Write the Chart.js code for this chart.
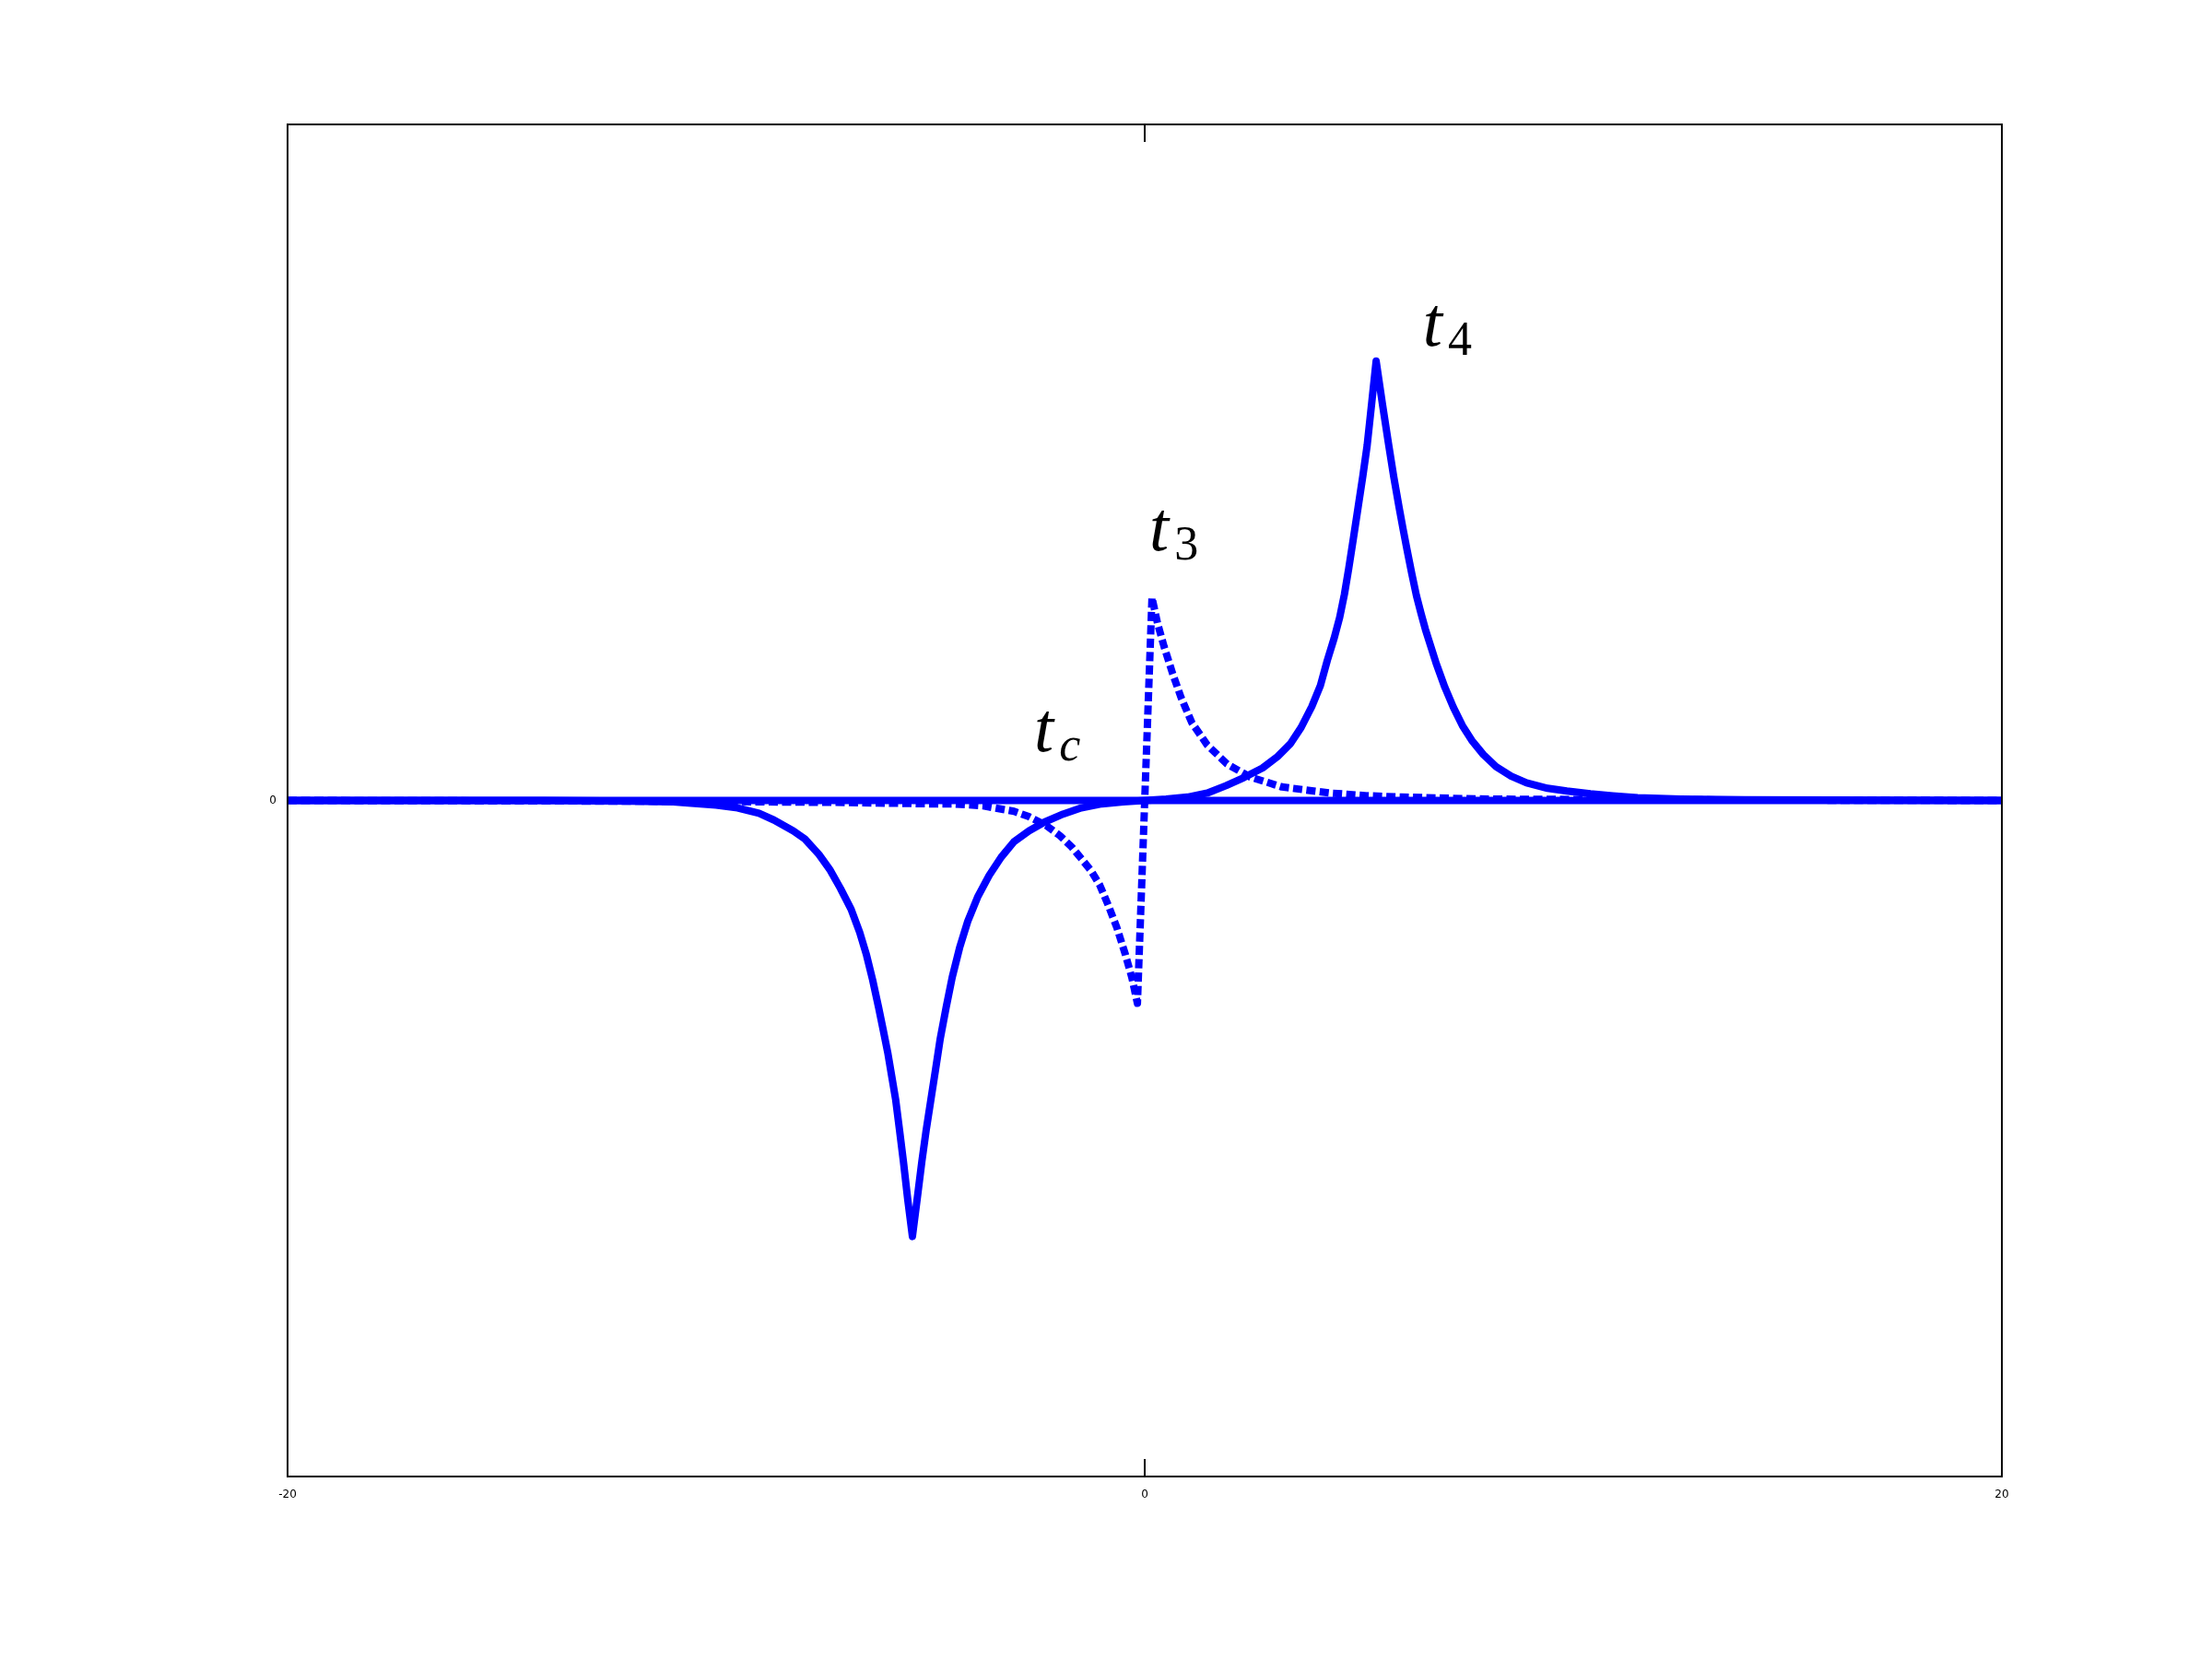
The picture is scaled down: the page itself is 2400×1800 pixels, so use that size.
<!DOCTYPE html>
<html lang="en">
<head>
  <meta charset="UTF-8">
  <title>t_c, t_3, t_4</title>
  <script src="https://cdn.jsdelivr.net/npm/chart.js"></script>
  <style>
    html, body { margin: 0; padding: 0; background: white; }
    canvas { display: block; }
  </style>
</head>
<body>

<canvas id="curveChart" width="2400" height="1800"></canvas>

<script>
  // solid curve (dip at t_c side, peak t4)
  const solidX = [-20, -14, -12, -11, -10.58, -10, -9.5, -9, -8.65, -8.2, -7.93, -7.6, -7.35, -7.1, -6.85, -6.65,
    -6.49, -6.35, -6.21, -6.1, -5.99, -5.9, -5.81, -5.72, -5.63, -5.53, -5.42, -5.31, -5.2, -5.1, -4.99, -4.88,
    -4.77, -4.63, -4.49, -4.32, -4.13, -3.9, -3.63, -3.35, -3.05, -2.7, -2.34, -1.9, -1.48, -1.0, -0.5, 0,
    0.5, 1.0, 1.46, 1.9, 2.32, 2.75, 3.1, 3.4, 3.65, 3.9, 4.1, 4.26, 4.42, 4.55, 4.66, 4.76, 4.87, 4.98, 5.09,
    5.19, 5.3, 5.4, 5.55, 5.69, 5.81, 5.94, 6.03, 6.12, 6.23, 6.34, 6.45, 6.55, 6.8, 7.0, 7.2, 7.41, 7.63, 7.9,
    8.2, 8.55, 8.91, 9.4, 9.85, 10.4, 10.92, 11.5, 12.5, 14, 20];
  const solidY = [0, 0, -0.001, -0.002, -0.004, -0.007, -0.011, -0.019, -0.029, -0.045, -0.057, -0.08, -0.102, -0.13, -0.161, -0.195,
    -0.229, -0.265, -0.306, -0.34, -0.375, -0.409, -0.443, -0.488, -0.534, -0.59, -0.645, -0.59, -0.534, -0.488, -0.443, -0.398,
    -0.352, -0.305, -0.261, -0.218, -0.179, -0.143, -0.111, -0.084, -0.061, -0.045, -0.032, -0.02, -0.011, -0.005, -0.002, 0,
    0.002, 0.005, 0.011, 0.022, 0.034, 0.048, 0.065, 0.084, 0.108, 0.139, 0.17, 0.207, 0.24, 0.271, 0.305, 0.343, 0.388, 0.434, 0.48,
    0.525, 0.59, 0.65, 0.585, 0.527, 0.479, 0.432, 0.401, 0.371, 0.336, 0.303, 0.276, 0.253, 0.203, 0.168, 0.138, 0.111, 0.089, 0.068,
    0.05, 0.036, 0.026, 0.018, 0.014, 0.01, 0.007, 0.004, 0.002, 0.001, 0];

  // dashed curve (t3)
  const dashedX = [-20, -12, -9, -7, -5, -4.5, -3.77, -3.05, -2.7, -2.3, -1.98, -1.7, -1.48, -1.25, -1.05, -0.85,
    -0.65, -0.45, -0.3, -0.17, 0, 0.17, 0.3, 0.45, 0.65, 0.85, 1.1, 1.46, 1.92, 2.45, 3.2, 4.33, 5.2, 6, 8, 12, 20];
  const dashedY = [0, -0.001, -0.002, -0.003, -0.005, -0.005, -0.008, -0.016, -0.024, -0.037, -0.052, -0.069, -0.086, -0.104, -0.125, -0.155,
    -0.188, -0.228, -0.262, -0.3, 0, 0.3, 0.262, 0.228, 0.188, 0.152, 0.115, 0.082, 0.054, 0.035, 0.02, 0.011, 0.007, 0.005, 0.002, 0.001, 0];

  // horizontal zero line
  const zeroX = [-20, 20];
  const zeroY = [0, 0];

  const xTicks = [-20, 0, 20];
  const yTicks = [0];

  // annotations: t with subscript, anchored at left/baseline of the "t"
  const labelSub = ['c', '3', '4'];
  const labelX = [-2.58, 0.11, 6.49];
  const labelY = [0.073, 0.37, 0.673];

  const toPoints = (xs, ys) => xs.map((x, i) => ({ x: x, y: ys[i] }));

  const blue = '#0000ff';

  const framePlugin = {
    id: 'frame',
    afterDatasetsDraw(chart) {
      const ctx = chart.ctx;
      const a = chart.chartArea;
      const sx = chart.scales.x;
      const sy = chart.scales.y;
      ctx.save();
      ctx.strokeStyle = '#000';
      ctx.lineWidth = 2;
      ctx.strokeRect(a.left, a.top, a.right - a.left, a.bottom - a.top);
      // inward tick marks
      ctx.beginPath();
      xTicks.forEach(v => {
        const px = sx.getPixelForValue(v);
        ctx.moveTo(px, a.top); ctx.lineTo(px, a.top + 19);
        ctx.moveTo(px, a.bottom); ctx.lineTo(px, a.bottom - 19);
      });
      ctx.stroke();

      // t labels
      ctx.fillStyle = '#000';
      ctx.textBaseline = 'alphabetic';
      ctx.textAlign = 'left';
      labelSub.forEach((sub, i) => {
        const px = sx.getPixelForValue(labelX[i]);
        const py = sy.getPixelForValue(labelY[i]);
        ctx.font = 'italic 76px "Liberation Serif"';
        ctx.fillText('t', px, py);
        const w = ctx.measureText('t').width;
        ctx.font = (isNaN(Number(sub)) ? 'italic ' : '') + '52px "Liberation Serif"';
        ctx.fillText(sub, px + w + 6, py + 10);
      });
      ctx.restore();
    }
  };

  const ctx = document.getElementById('curveChart').getContext('2d');
  const chart = new Chart(ctx, {
    type: 'line',
    data: {
      datasets: [
        {
          label: 'zero',
          data: toPoints(zeroX, zeroY),
          borderColor: blue,
          borderWidth: 8,
          pointRadius: 0,
          tension: 0
        },
        {
          label: 't3',
          data: toPoints(dashedX, dashedY),
          borderColor: blue,
          borderWidth: 8,
          borderDash: [10, 4.5],
          borderCapStyle: 'butt',
          borderJoinStyle: 'round',
          pointRadius: 0,
          tension: 0
        },
        {
          label: 'tc t4',
          data: toPoints(solidX, solidY),
          borderColor: blue,
          borderWidth: 8,
          borderCapStyle: 'round',
          borderJoinStyle: 'round',
          pointRadius: 0,
          tension: 0
        }
      ]
    },
    options: {
      responsive: false,
      animation: false,
      devicePixelRatio: 1,
      layout: {
        padding: { left: 272, top: 135, right: 228, bottom: 158 }
      },
      plugins: {
        legend: { display: false },
        tooltip: { enabled: false }
      },
      scales: {
        x: {
          type: 'linear',
          min: -20,
          max: 20,
          afterBuildTicks: s => { s.ticks = xTicks.map(v => ({ value: v })); },
          afterFit: s => { s.height = 40; },
          grid: { display: false, drawTicks: false },
          border: { display: false },
          ticks: {
            color: '#000',
            font: { family: 'DejaVu Sans', size: 12 },
            padding: 13,
            maxRotation: 0,
            autoSkip: false
          }
        },
        y: {
          type: 'linear',
          min: -1,
          max: 1,
          afterBuildTicks: s => { s.ticks = yTicks.map(v => ({ value: v })); },
          afterFit: s => { s.width = 40; },
          grid: { display: false, drawTicks: false },
          border: { display: false },
          ticks: {
            color: '#000',
            font: { family: 'DejaVu Sans', size: 12 },
            padding: 12
          }
        }
      }
    },
    plugins: [framePlugin]
  });
</script>

</body>
</html>
